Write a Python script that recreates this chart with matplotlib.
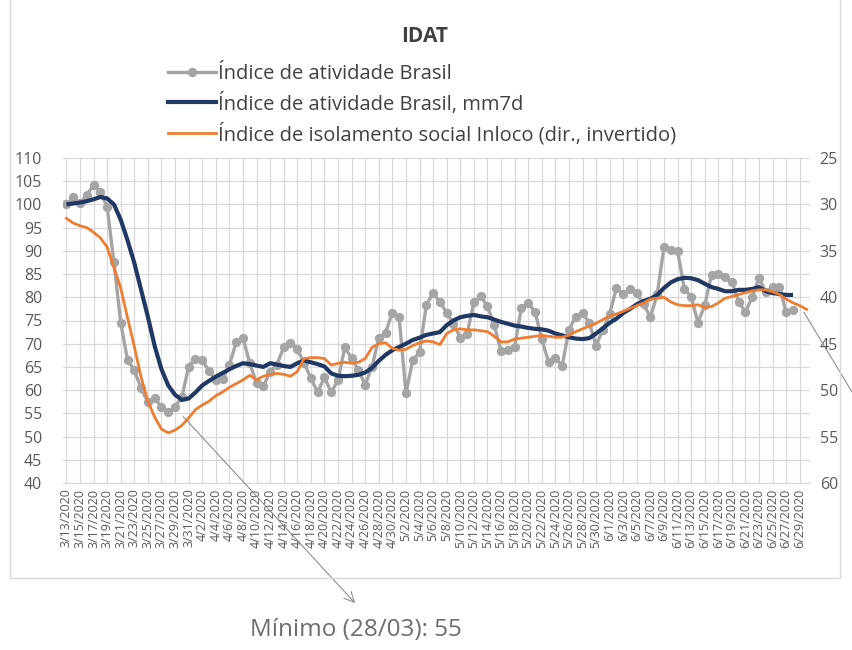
import matplotlib
matplotlib.use("Agg")
import matplotlib.pyplot as plt
from matplotlib.patches import Rectangle
from matplotlib.lines import Line2D
import datetime as dt

start = dt.date(2020, 3, 13)
n_days = 110
dates = [start + dt.timedelta(days=k) for k in range(n_days)]
date_labels = [f"{d.month}/{d.day}/{d.year}" for d in dates]

idx_brasil = [100, 101.5, 100.3, 102, 104.2, 102.7, 99.5, 87.5, 74.5, 66.5,
              64.3, 60.4, 57.4, 58.3, 56.4, 55.2, 56.4, 58.5, 65, 66.8,
              66.4, 64.2, 62.2, 62.3, 65.4, 70.3, 71.3, 65.8, 61.5, 60.8,
              64, 65.5, 69.3, 70.2, 68.9, 65.8, 62.6, 59.5, 62.8, 59.5,
              62.2, 69.2, 66.9, 64.3, 61.2, 65, 71.2, 72.4, 76.7, 75.7,
              59.3, 66.4, 68.2, 78.3, 80.9, 79, 76.7, 74.3, 71.3, 72.1,
              78.9, 80.2, 78.1, 74, 68.4, 68.6, 69.2, 77.8, 78.7, 76.9,
              71, 66, 67, 65.2, 73, 75.8, 76.6, 74.5, 69.6, 73,
              76.5, 82, 80.8, 81.7, 80.9, 78.5, 75.7, 80.7, 90.8, 90.2,
              90, 81.8, 80.1, 74.5, 78.3, 84.9, 85, 84.4, 83.3, 79,
              76.8, 80.1, 84.2, 81.1, 82.2, 82.2, 76.8, 77.2]

idx_mm7d = [100.0, 100.2, 100.4, 100.7, 101.1, 101.6, 101.3, 100.0, 96.7, 92.3,
            87.4, 81.6, 75.8, 69.5, 64.5, 61.0, 59.0, 57.9, 58.2, 59.5,
            61.0, 62.0, 62.9, 63.7, 64.5, 65.2, 65.8, 65.6, 65.3, 65.0,
            65.8, 65.5, 65.2, 65.0, 65.8, 66.4, 66.0, 65.6, 65.1, 63.6,
            63.1, 63.0, 63.1, 63.3, 63.8, 64.8, 66.3, 67.6, 68.6, 69.3,
            70.0, 70.8, 71.3, 71.9, 72.2, 72.5, 74.0, 75.0, 75.7, 76.0,
            76.2, 75.9, 75.7, 75.2, 74.7, 74.3, 73.9, 73.7, 73.4, 73.2,
            73.1, 72.8, 72.2, 71.8, 71.4, 71.1, 71.0, 71.2, 72.2, 73.3,
            74.5, 75.4, 76.6, 77.5, 78.5, 79.2, 79.7, 80.5, 82.0, 83.2,
            83.9, 84.2, 84.1, 83.7, 82.9, 82.2, 81.8, 81.3, 81.3, 81.6,
            81.6, 81.8, 82.2, 81.3, 80.9, 80.7, 80.5, 80.5]

isolamento = [31.5, 32.0, 32.3, 32.5, 33.0, 33.6, 34.6, 36.8, 39.0, 42.2,
              45.3, 48.6, 51.2, 52.9, 54.2, 54.6, 54.3, 53.8, 53.0, 52.1,
              51.6, 51.2, 50.6, 50.2, 49.7, 49.3, 48.9, 48.4, 48.9, 48.5,
              48.3, 48.2, 48.3, 48.5, 48.0, 46.6, 46.5, 46.5, 46.6, 47.3,
              47.1, 47.0, 47.1, 47.0, 46.6, 45.4, 45.0, 44.9, 45.5, 45.7,
              45.6, 45.2, 44.9, 44.7, 44.8, 45.1, 43.9, 43.5, 43.4, 43.5,
              43.5, 43.6, 43.7, 44.2, 44.8, 44.8, 44.5, 44.4, 44.3, 44.2,
              44.1, 44.2, 44.3, 44.3, 44.1, 43.7, 43.4, 43.1, 42.8, 42.4,
              42.0, 41.8, 41.5, 41.2, 40.9, 40.6, 40.2, 40.1, 40.0, 40.5,
              40.8, 40.9, 40.9, 40.8, 41.1, 41.0, 40.6, 40.1, 39.9, 39.7,
              39.5, 39.3, 39.2, 39.2, 39.4, 39.7, 40.2, 40.6, 40.9, 41.3]

left_ticks = list(range(40, 111, 5))
right_ticks = list(range(25, 61, 5))

title = "IDAT"
leg_labels = ["Índice de atividade Brasil",
              "Índice de atividade Brasil, mm7d",
              "Índice de isolamento social Inloco (dir., invertido)"]
note = "Mínimo (28/03): 55"

GREY = "#a5a5a5"
NAVY = "#1f3864"
ORANGE = "#ed7d31"
TXT = "#595959"
GRID = "#d9d9d9"

plt.rcParams['font.family'] = ['Open Sans', 'DejaVu Sans']

fig = plt.figure(figsize=(8.52, 6.5), dpi=100)
W, H = 852, 650

# chart border
fig.patches.append(Rectangle((10 / W, 1 - 578 / H), 830 / W, 578 / H + 0.01,
                             transform=fig.transFigure, fill=False,
                             edgecolor=GRID, lw=1.0))

ax = fig.add_axes([63 / W, 1 - 483 / H, (810 - 63) / W, (483 - 158) / H])
ax2 = ax.twinx()

x_main = list(range(len(idx_brasil)))
x_mm = list(range(len(idx_mm7d)))
x_iso = list(range(len(isolamento)))

ax.plot(x_main, idx_brasil, color=GREY, lw=2.4, marker='o', ms=6.7,
        markeredgewidth=0, zorder=3)
ax.plot(x_mm, idx_mm7d, color=NAVY, lw=3.0, zorder=5, solid_capstyle='butt')
ax2.plot(x_iso, isolamento, color=ORANGE, lw=2.0, zorder=4)

ax.set_xlim(-0.5, n_days - 0.5)
ax.set_ylim(40, 110)
ax2.set_ylim(60, 25)
ax.set_yticks(left_ticks)
ax2.set_yticks(right_ticks)

xt = list(range(0, n_days, 2))
ax.set_xticks(xt)
ax.set_xticklabels([date_labels[k] for k in xt], rotation=90, fontsize=9,
                   color=TXT)
ax.tick_params(axis='x', length=0, pad=4)
ax.tick_params(axis='y', length=0, labelsize=11.5, colors=TXT, pad=15)
ax2.tick_params(axis='y', length=0, labelsize=11.5, colors=TXT, pad=7)

ax.grid(True, color=GRID, lw=0.9)
ax.set_axisbelow(True)
for a in (ax, ax2):
    for s in a.spines.values():
        s.set_visible(False)
ax.spines['bottom'].set_visible(True)
ax.spines['bottom'].set_color(GRID)

fig.text(425 / W, 1 - 37 / H, title, ha='center', va='center',
         fontsize=15, fontweight='bold', color='#404040')

handles = [Line2D([], [], color=GREY, lw=2.4, marker='o', ms=6.7, markeredgewidth=0),
           Line2D([], [], color=NAVY, lw=3.0),
           Line2D([], [], color=ORANGE, lw=2.0)]
fig.legend(handles, leg_labels, loc='upper left',
           bbox_to_anchor=(160 / W, 1 - 56 / H), frameon=False,
           fontsize=14.5, labelcolor='#404040', handlelength=2.4,
           handletextpad=0.1, labelspacing=0.42, borderaxespad=0)

# annotation for the minimum
ax.annotate('', xy=(355 / W, 1 - 603 / H), xycoords='figure fraction',
            xytext=(17.2, 54.3), textcoords='data',
            arrowprops=dict(arrowstyle='->', color='#808080', lw=0.7,
                            mutation_scale=18, shrinkA=0, shrinkB=0))
fig.text(250 / W, 1 - 630 / H, note, ha='left', va='center', fontsize=17.5,
         color='#6d6d6d')

# line from the end of the orange series to the right edge
ax2.annotate('', xy=(1.0, 1 - 392 / H), xycoords='figure fraction',
             xytext=(len(isolamento) - 1.4, isolamento[-1] + 0.3),
             textcoords='data',
             arrowprops=dict(arrowstyle='-', color='#808080', lw=0.7,
                             shrinkA=0, shrinkB=0))

fig.savefig("out.png", dpi=100)
